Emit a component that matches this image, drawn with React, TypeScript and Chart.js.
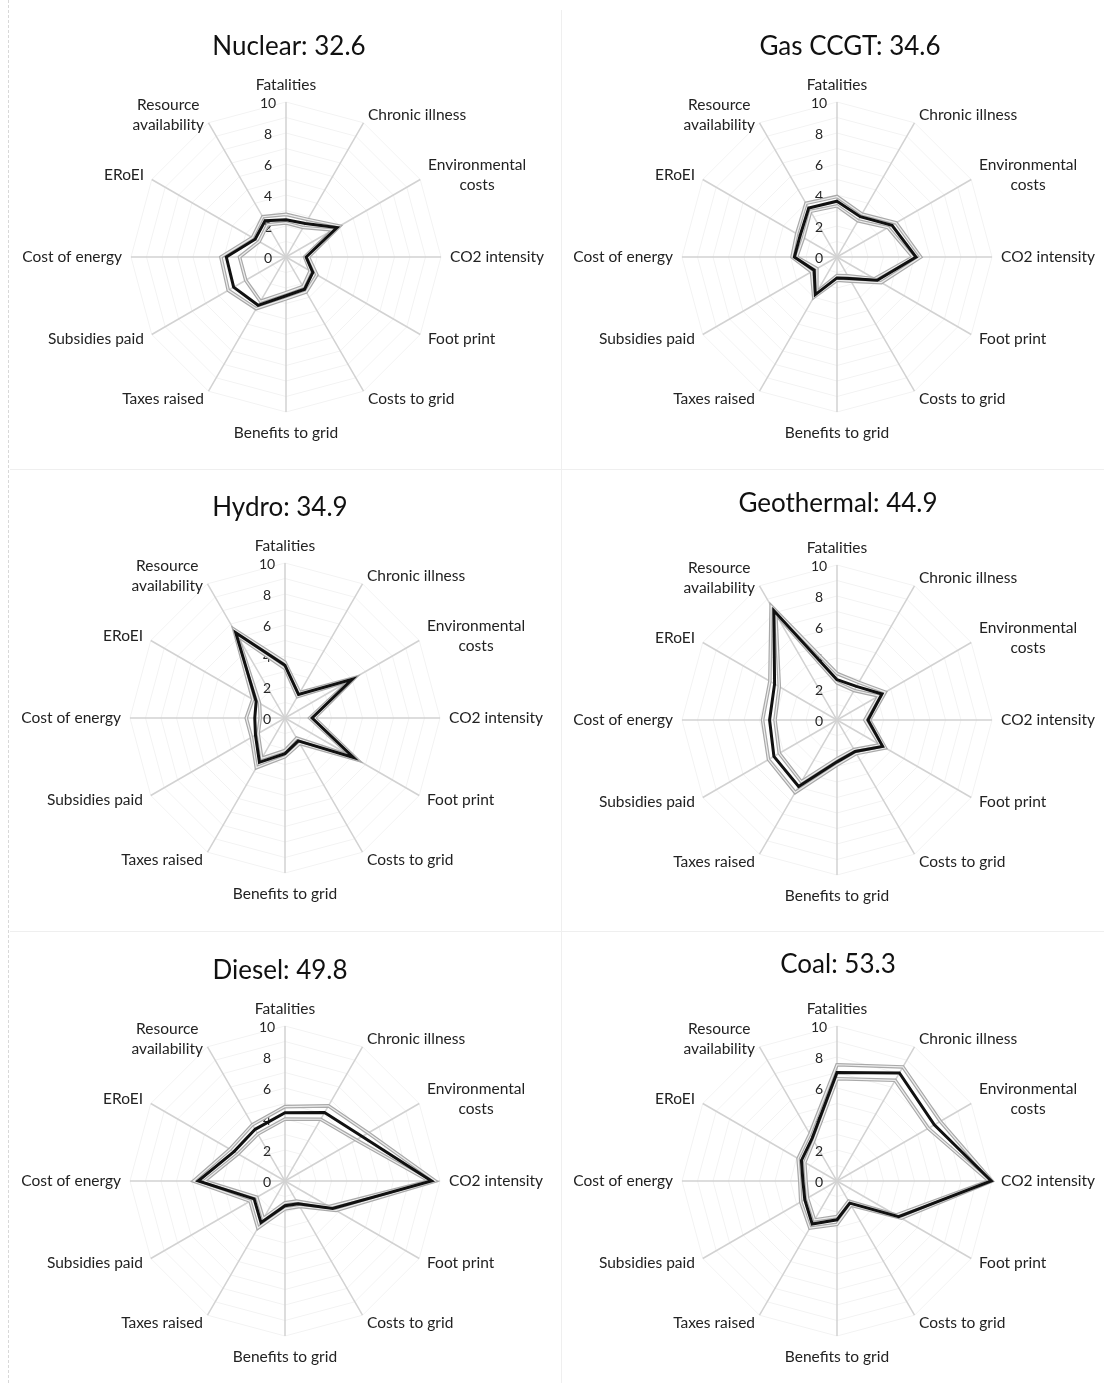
import React, { useEffect, useRef } from "react";
import { Chart, registerables } from "chart.js";
Chart.register(...registerables);

// ---------- data ----------
const axisLabels: (string | string[])[] = [
  "Fatalities",
  "Chronic illness",
  ["Environmental", "costs"],
  "CO2 intensity",
  "Foot print",
  "Costs to grid",
  "Benefits to grid",
  "Taxes raised",
  "Subsidies paid",
  "Cost of energy",
  "ERoEI",
  ["Resource", "availability"],
];

const tickValues = [0, 2, 4, 6, 8, 10];
const tickLabels = ["0", "2", "4", "6", "8", "10"];

const sources = ["Nuclear", "Gas CCGT", "Hydro", "Geothermal", "Diesel", "Coal"];
const scores = [32.6, 34.6, 34.9, 44.9, 49.8, 53.3];

const nuclearMean = [2.4, 2.5, 3.8, 1.3, 2.0, 2.4, 2.5, 3.6, 3.9, 3.85, 2.3, 2.7];
const nuclearUpper = [2.75, 2.8, 4.0, 1.45, 2.3, 2.6, 2.7, 3.85, 4.3, 4.2, 2.5, 3.0];
const nuclearLower = [2.2, 2.2, 3.5, 1.2, 1.8, 2.2, 2.3, 3.3, 3.0, 3.0, 2.0, 2.4];

const gasMean = [3.6, 3.0, 4.1, 5.1, 3.0, 1.6, 1.35, 2.8, 1.7, 2.75, 2.75, 3.65];
const gasUpper = [3.9, 3.2, 4.4, 5.4, 3.3, 1.8, 1.5, 3.0, 1.9, 2.9, 3.0, 4.0];
const gasLower = [3.3, 2.7, 3.8, 4.9, 2.8, 1.4, 1.2, 2.6, 1.5, 2.6, 2.5, 3.4];

const hydroMean = [3.4, 1.75, 5.0, 1.75, 5.1, 1.7, 2.3, 3.3, 2.2, 1.95, 2.15, 6.35];
const hydroUpper = [3.6, 1.9, 5.2, 1.9, 5.4, 1.9, 2.5, 3.7, 2.5, 2.5, 2.4, 6.6];
const hydroLower = [3.2, 1.6, 4.8, 1.6, 4.9, 1.5, 2.1, 3.0, 2.0, 1.6, 1.9, 6.1];

const geoMean = [2.6, 2.5, 3.35, 2.0, 3.4, 2.35, 2.7, 4.95, 4.7, 4.35, 4.65, 8.15];
const geoUpper = [3.0, 2.8, 3.6, 2.1, 3.6, 2.5, 2.9, 5.4, 5.1, 4.8, 5.0, 8.5];
const geoLower = [2.4, 2.2, 3.1, 1.8, 3.2, 2.2, 2.5, 4.6, 4.3, 4.0, 4.3, 7.9];

const dieselMean = [4.4, 5.1, 5.75, 9.45, 3.55, 1.7, 1.6, 3.1, 2.3, 5.6, 3.8, 3.85];
const dieselUpper = [4.8, 5.6, 6.2, 9.7, 3.8, 1.9, 1.8, 3.5, 2.6, 5.9, 4.1, 4.2];
const dieselLower = [4.0, 4.6, 5.3, 9.3, 3.3, 1.5, 1.4, 2.8, 2.1, 5.2, 3.5, 3.5];

const coalMean = [7.0, 8.05, 7.25, 9.95, 4.6, 1.65, 2.5, 3.2, 2.4, 2.2, 2.65, 3.2];
const coalUpper = [7.5, 8.5, 7.7, 10.0, 4.8, 1.8, 2.8, 3.5, 2.7, 2.4, 2.9, 3.5];
const coalLower = [6.6, 7.5, 6.8, 9.8, 4.4, 1.5, 2.3, 2.9, 2.2, 2.0, 2.4, 3.0];

const seriesMean = [nuclearMean, gasMean, hydroMean, geoMean, dieselMean, coalMean];
const seriesUpper = [nuclearUpper, gasUpper, hydroUpper, geoUpper, dieselUpper, coalUpper];
const seriesLower = [nuclearLower, gasLower, hydroLower, geoLower, dieselLower, coalLower];

// ---------- layout ----------
type Box = { left: number; top: number; width: number; height: number };
const boxes: Box[] = [
  { left: 10, top: 10, width: 551, height: 459 },
  { left: 562, top: 10, width: 542, height: 459 },
  { left: 10, top: 470, width: 551, height: 461 },
  { left: 562, top: 470, width: 542, height: 461 },
  { left: 10, top: 932, width: 551, height: 451 },
  { left: 562, top: 932, width: 542, height: 451 },
];
const centers = [
  [286, 257],
  [837, 257],
  [285, 718],
  [837, 720],
  [285, 1181],
  [837, 1181],
];
const titlePos = [
  [289, 45],
  [850, 45],
  [280, 506],
  [838, 502],
  [280, 969],
  [838, 963],
];
const RADIUS = 155;
const FONT = "Lato, 'Open Sans', sans-serif";

const labelPlugin = {
  id: "customLabels",
  beforeDatasetsDraw(chart: any) {
    const scale = chart.scales.r;
    const ctx = chart.ctx as CanvasRenderingContext2D;
    ctx.save();
    ctx.font = `14px ${FONT}`;
    ctx.fillStyle = "#262626";
    ctx.textAlign = "center";
    ctx.textBaseline = "middle";
    tickValues.forEach((v, k) => {
      const p = scale.getPointPositionForValue(0, v);
      ctx.fillText(tickLabels[k], p.x - 18, p.y + 1);
    });
    ctx.font = `15.5px ${FONT}`;
    ctx.fillStyle = "#222222";
    const R = scale.drawingArea;
    axisLabels.forEach((lab, i) => {
      const lines = Array.isArray(lab) ? lab : [lab];
      const deg = Math.round((scale.getIndexAngle(i) * 180) / Math.PI) % 360;
      let dist = R + 9;
      if (deg === 0) dist = R + 7;
      if (deg === 180) dist = R + 11;
      const p = scale.getPointPosition(i, dist);
      const w = Math.max(...lines.map((l) => ctx.measureText(l).width));
      let cx: number;
      if (deg === 0 || deg === 180) cx = p.x;
      else if (deg < 180) cx = p.x + w / 2;
      else cx = p.x - w / 2;
      const lh = 20;
      const n = lines.length;
      let y0: number;
      if (deg === 0) y0 = p.y - n * lh + lh / 2;
      else if (deg === 180) y0 = p.y + lh / 2;
      else y0 = p.y - ((n - 1) * lh) / 2;
      lines.forEach((l, j) => ctx.fillText(l, cx, y0 + j * lh));
    });
    ctx.restore();
  },
};

function RadarPanel({ idx }: { idx: number }) {
  const ref = useRef<HTMLCanvasElement | null>(null);
  const box = boxes[idx];
  const [pcx, pcy] = centers[idx];
  const lcx = pcx - box.left;
  const lcy = pcy - box.top;

  useEffect(() => {
    if (!ref.current) return;
    const grey = "#a9a9a9";
    const core = "#eeeeee";
    const mk = (data: number[], color: string, width: number) => ({
      data,
      borderColor: color,
      borderWidth: width,
      pointRadius: 0,
      fill: false,
      tension: 0,
    });
    const chart = new Chart(ref.current, {
      type: "radar",
      data: {
        labels: axisLabels as any,
        datasets: [
          mk(seriesMean[idx], "#111111", 3),
          mk(seriesUpper[idx], core, 1.2),
          mk(seriesLower[idx], core, 1.2),
          mk(seriesUpper[idx], grey, 3.6),
          mk(seriesLower[idx], grey, 3.6),
        ] as any,
      },
      options: {
        responsive: false,
        animation: false,
        devicePixelRatio: 1,
        layout: {
          padding: {
            left: lcx - RADIUS,
            top: lcy - RADIUS,
            right: box.width - lcx - RADIUS,
            bottom: box.height - lcy - RADIUS,
          },
        },
        plugins: { legend: { display: false }, tooltip: { enabled: false } },
        scales: {
          r: {
            min: 0,
            max: 10,
            beginAtZero: true,
            ticks: { display: false, stepSize: 1 },
            grid: { color: "#f3f3f3", lineWidth: 1, circular: false },
            angleLines: { color: "#d2d2d2", lineWidth: 1.5 },
            pointLabels: { display: false },
          },
        },
      } as any,
      plugins: [labelPlugin],
    });
    return () => chart.destroy();
  }, [idx]);

  const [tx, ty] = titlePos[idx];
  return (
    <div
      style={{
        position: "absolute",
        left: box.left,
        top: box.top,
        width: box.width,
        height: box.height,
        boxSizing: "border-box",
      }}
    >
      <canvas ref={ref} width={box.width} height={box.height} style={{ display: "block", position: "absolute", left: 0, top: 0 }} />
      <div
        style={{
          position: "absolute",
          left: tx - box.left - 150,
          top: ty - box.top - 17,
          width: 300,
          textAlign: "center",
          fontFamily: FONT,
          fontSize: 26,
          lineHeight: "34px",
          color: "#111111",
          whiteSpace: "nowrap",
        }}
      >
        {`${sources[idx]}: ${scores[idx].toFixed(1)}`}
      </div>
    </div>
  );
}

export default function App() {
  return (
    <div
      style={{
        position: "absolute",
        left: 0,
        top: 0,
        width: 1104,
        height: 1383,
        background: "#ffffff",
        overflow: "hidden",
      }}
    >
      <div style={{ position: "absolute", left: 8, top: 0, height: 1383, borderLeft: "1px dashed #d8d8d8" }} />
      <div style={{ position: "absolute", left: 561, top: 10, height: 1373, borderLeft: "1px solid #efefef" }} />
      <div style={{ position: "absolute", left: 10, top: 469, width: 1094, borderTop: "1px solid #efefef" }} />
      <div style={{ position: "absolute", left: 10, top: 931, width: 1094, borderTop: "1px solid #efefef" }} />
      {sources.map((_, i) => (
        <RadarPanel key={i} idx={i} />
      ))}
    </div>
  );
}
